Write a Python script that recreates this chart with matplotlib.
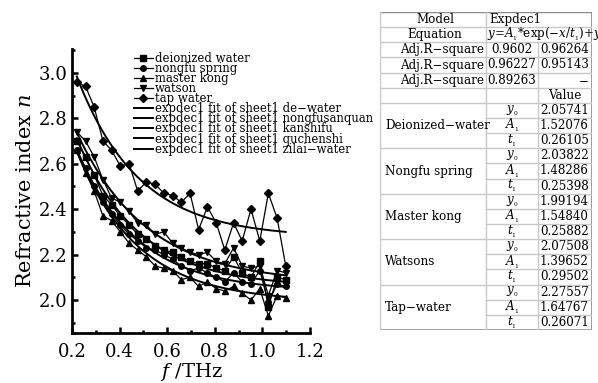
import numpy as np
import matplotlib
matplotlib.use("Agg")
import matplotlib.pyplot as plt
from matplotlib.ticker import MultipleLocator, FormatStrFormatter

plt.rcParams['font.family'] = ['DejaVu Serif']
plt.rcParams['mathtext.fontset'] = 'dejavuserif'

# frequency points (THz)
freq = [0.220, 0.257, 0.293, 0.330, 0.366, 0.403, 0.440, 0.476, 0.513, 0.549,
        0.586, 0.623, 0.659, 0.696, 0.732, 0.769, 0.806, 0.842, 0.879, 0.915,
        0.952, 0.989, 1.025, 1.062, 1.098]

# measured refractive index
deionized = [2.70, 2.63, 2.55, 2.46, 2.42, 2.37, 2.33, 2.29, 2.27, 2.24,
             2.22, 2.21, 2.19, 2.17, 2.16, 2.16, 2.14, 2.13, 2.19, 2.12,
             2.10, 2.17, 1.97, 2.10, 2.09]
nongfu = [2.66, 2.58, 2.50, 2.43, 2.38, 2.33, 2.29, 2.26, 2.23, 2.22,
          2.20, 2.18, 2.15, 2.13, 2.14, 2.12, 2.10, 2.08, 2.12, 2.08,
          2.07, 2.13, 1.99, 2.07, 2.06]
master = [2.66, 2.56, 2.48, 2.37, 2.35, 2.30, 2.25, 2.22, 2.19, 2.15,
          2.14, 2.13, 2.09, 2.10, 2.06, 2.08, 2.05, 2.04, 2.06, 2.03,
          2.00, 2.05, 1.93, 2.02, 2.01]
watson = [2.74, 2.70, 2.63, 2.53, 2.45, 2.43, 2.39, 2.34, 2.33, 2.29,
          2.30, 2.25, 2.23, 2.21, 2.20, 2.21, 2.17, 2.16, 2.23, 2.15,
          2.14, 2.15, 2.02, 2.13, 2.12]
tap = [2.96, 2.94, 2.85, 2.70, 2.66, 2.59, 2.60, 2.48, 2.52, 2.51,
       2.47, 2.46, 2.43, 2.47, 2.31, 2.41, 2.34, 2.22, 2.34, 2.26,
       2.40, 2.26, 2.47, 2.36, 2.15]

data_labels = ['deionized water', 'nongfu spring', 'master kong', 'watson', 'tap water']
fit_labels = ['expdec1 fit of sheet1 de\u2212water',
              'expdec1 fit of sheet1 nongfusanquan',
              'expdec1 fit of sheet1 kanshifu',
              'expdec1 fit of sheet1 quchenshi',
              'expdec1 fit of sheet1 zilai\u2212water']
markers = ['s', 'o', '^', 'v', 'D']

# fit parameters (table)
samples = ['Deionized\u2212water', 'Nongfu spring', 'Master kong', 'Watsons', 'Tap\u2212water']
fit_y0 = [2.05741, 2.03822, 1.99194, 2.07508, 2.27557]
fit_A1 = [1.52076, 1.48286, 1.54840, 1.39652, 1.64767]
fit_t1 = [0.26105, 0.25398, 0.25882, 0.29502, 0.26071]
adj_r2 = [['0.9602', '0.96264'], ['0.96227', '0.95143'], ['0.89263', '\u2212']]

W, H = 598, 383
fig = plt.figure(figsize=(W / 100, H / 100), dpi=100)
ax = fig.add_axes([72 / W, 1 - 333 / H, (310 - 72) / W, (333 - 49) / H])

series = [deionized, nongfu, master, watson, tap]
handles = []
for vals, m, lab in zip(series, markers, data_labels):
    h, = ax.plot(freq, vals, color='black', lw=0.9, marker=m, ms=4, label=lab)
    handles.append(h)

xf = np.linspace(freq[0], freq[-1], 200)
for y0, a1, t1, lab in zip(fit_y0, fit_A1, fit_t1, fit_labels):
    h, = ax.plot(xf, a1 * np.exp(-xf / t1) + y0, color='black', lw=1.4, label=lab)
    handles.append(h)

ax.set_xlim(0.2, 1.2)
ax.set_ylim(1.855, 3.105)
ax.xaxis.set_major_locator(MultipleLocator(0.2))
ax.xaxis.set_minor_locator(MultipleLocator(0.1))
ax.yaxis.set_major_locator(MultipleLocator(0.2))
ax.yaxis.set_minor_locator(MultipleLocator(0.1))
ax.xaxis.set_major_formatter(FormatStrFormatter('%.1f'))
ax.yaxis.set_major_formatter(FormatStrFormatter('%.1f'))
ax.tick_params(which='both', direction='in', width=1.8, labelsize=13)
ax.tick_params(which='major', length=4)
ax.tick_params(which='minor', length=2.5)
ax.tick_params(axis='x', pad=7)
ax.tick_params(axis='y', pad=3)
for s in ['top', 'right']:
    ax.spines[s].set_visible(False)
for s in ['left', 'bottom']:
    ax.spines[s].set_linewidth(2)

ax.set_ylabel('Refractive index $n$', fontsize=15, labelpad=3)
ax.set_xlabel('$f$ /THz', fontsize=14, labelpad=0)

leg = ax.legend(handles=handles, loc='upper left', bbox_to_anchor=(0.26, 0.99),
                frameon=False, fontsize=8.4, labelspacing=-0.25, handlelength=1.6,
                handletextpad=0.2, borderpad=0, borderaxespad=0)

# table on the right
tx0, tx1, ty0, ty1 = 380, 592, 12, 330
tab = fig.add_axes([tx0 / W, 1 - ty1 / H, (tx1 - tx0) / W, (ty1 - ty0) / H])
tab.set_xlim(0, 1)
tab.set_ylim(21, 0)
tab.axis('off')
c1 = (486 - tx0) / (tx1 - tx0)
c2 = (538 - tx0) / (tx1 - tx0)
light = '#c8c8c8'
dark = '#8a8a8a'
fs = 8.6

tab.plot([0, 1], [0, 0], color=dark, lw=1)
tab.plot([1, 1], [0, 21], color=dark, lw=1.2)
tab.plot([0, 1], [21, 21], color=dark, lw=1.2)
tab.plot([0, 0], [0, 21], color=light, lw=1)
tab.plot([c1, c1], [0, 21], color=light, lw=1)
tab.plot([c2, c2], [2, 21], color=light, lw=1)
for r in range(1, 7):
    tab.plot([0, 1], [r, r], color=light, lw=1)
for g in range(5):
    base = 6 + 3 * g
    tab.plot([0, 1], [base + 3, base + 3], color=light, lw=1)
    for k in (1, 2):
        tab.plot([c1, 1], [base + k, base + k], color=light, lw=1)

tab.text(c1 / 2 + 0.01, 0.5, 'Model', ha='center', va='center', fontsize=fs)
tab.text(c1 / 2 + 0.01, 1.5, 'Equation', ha='center', va='center', fontsize=fs)
tab.text(c1 + 0.015, 0.5, 'Expdec1', ha='left', va='center', fontsize=fs)
tab.text(c1 + 0.005, 1.5, '$y$=$A_{_1}$*exp($-x$/$t_{_1}$)+$y_{_0}$', ha='left',
         va='center', fontsize=fs, clip_on=False)
for i, (a, b) in enumerate(adj_r2):
    tab.text(c1 - 0.01, 2.5 + i, 'Adj.R\u2212square', ha='right', va='center', fontsize=fs)
    tab.text((c1 + c2) / 2, 2.5 + i, a, ha='center', va='center', fontsize=fs)
    tab.text(0.985, 2.5 + i, b, ha='right', va='center', fontsize=fs)
tab.text((c2 + 1) / 2, 5.5, 'Value', ha='center', va='center', fontsize=fs)
syms = ['$y_{_0}$', '$A_{_1}$', '$t_{_1}$']
for g, name in enumerate(samples):
    base = 6 + 3 * g
    tab.text(0.025, base + 1.5, name, ha='left', va='center', fontsize=fs)
    for k, v in enumerate([fit_y0[g], fit_A1[g], fit_t1[g]]):
        tab.text((c1 + c2) / 2, base + k + 0.5, syms[k], ha='center', va='center', fontsize=fs)
        tab.text(0.985, base + k + 0.5, '%.5f' % v, ha='right', va='center', fontsize=fs)

fig.savefig('out.png', dpi=100)
